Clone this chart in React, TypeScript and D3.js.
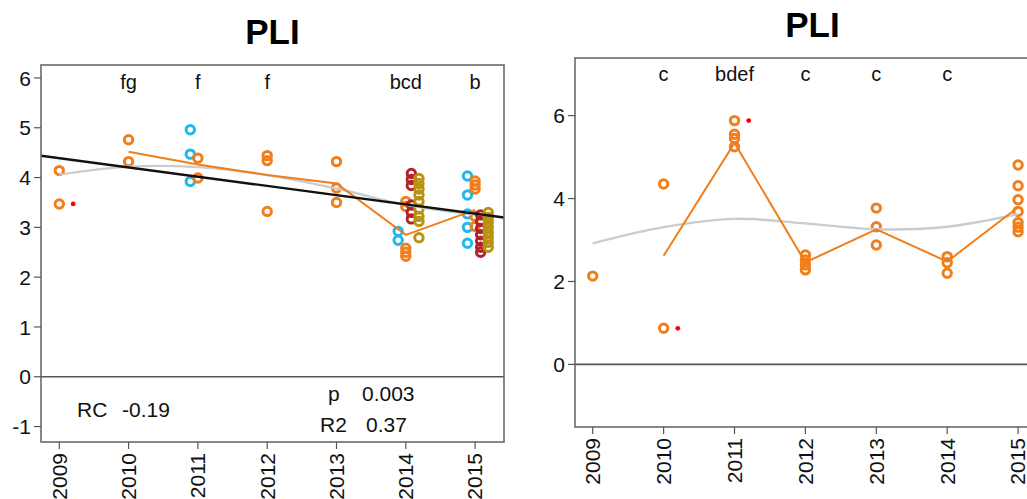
import React from "react";
import * as d3 from "d3";

const years = [2009, 2010, 2011, 2012, 2013, 2014, 2015];

// ---- Left panel data ----
const leftOrange = [
  [4.14, 3.47],
  [4.76, 4.32],
  [4.39, 3.99],
  [4.44, 4.34, 3.32],
  [4.32, 3.79, 3.5],
  [3.52, 3.42, 2.58, 2.5, 2.42],
  [3.93, 3.85, 3.77, 3.22, 3.02],
];
const leftCyan = [[], [], [4.96, 4.47, 3.92], [], [], [2.92, 2.74], [4.03, 3.65, 3.27, 3.0, 2.68]];
const leftRed = [[], [], [], [], [], [4.08, 3.96, 3.84, 3.45, 3.3, 3.17], [3.25, 3.12, 2.98, 2.85, 2.72, 2.6, 2.5]];
const leftGold = [
  [], [], [], [], [],
  [3.98, 3.88, 3.77, 3.65, 3.52, 3.37, 3.22, 3.12, 2.79],
  [3.3, 3.2, 3.1, 3.0, 2.9, 2.8, 2.7, 2.6],
];
const leftOrangeMean = [null, 4.52, 4.26, 4.05, 3.88, 2.85, 3.35];
const leftSmooth = [4.06, 4.22, 4.21, 4.05, 3.78, 3.45, 3.25];
const leftFitIntercept2009 = 4.39;
const leftFitSlope = -0.186;
const leftLetters = ["", "fg", "f", "f", "", "bcd", "b"];
const leftOutliers = [{ year: 2009, value: 3.47 }];
const leftYTicks = [-1, 0, 1, 2, 3, 4, 5, 6];
const leftStats = { rc: "-0.19", p: "0.003", r2: "0.37" };

// ---- Right panel data ----
const rightOrange = [
  [2.13],
  [4.35, 0.87],
  [5.88, 5.55, 5.45, 5.25],
  [2.64, 2.52, 2.4, 2.28],
  [3.77, 3.32, 2.88],
  [2.6, 2.45, 2.2],
  [4.81, 4.31, 3.97, 3.69, 3.42, 3.31, 3.2],
];
const rightOrangeMean = [null, 2.62, 5.34, 2.46, 3.26, 2.48, 3.79];
const rightSmooth = [2.92, 3.31, 3.51, 3.4, 3.26, 3.32, 3.63];
const rightLetters = ["", "c", "bdef", "c", "c", "c", ""];
const rightOutliers = [
  { year: 2010, value: 0.87 },
  { year: 2011, value: 5.88 },
];
const rightYTicks = [0, 2, 4, 6];

const ORANGE = "#F07E1B";
const CYAN = "#20B6EE";
const RED = "#B2222A";
const GOLD = "#B8930F";
const FONT = "'Liberation Sans', Arial, sans-serif";

type Series = { values: number[][]; color: string; offset: number };

function Panel(props: {
  x0: number; x1: number; y0: number; y1: number;
  xDomain: [number, number]; yDomain: [number, number];
  series: Series[];
  mean: (number | null)[];
  smooth: number[];
  letters: string[];
  letterBaseline: number;
  outliers: { year: number; value: number }[];
  yTicks: number[];
  fit?: { a: number; b: number };
  title: string; titleY: number;
  stats?: boolean;
}) {
  const { x0, x1, y0, y1 } = props;
  const x = d3.scaleLinear().domain(props.xDomain).range([x0, x1]);
  const y = d3.scaleLinear().domain(props.yDomain).range([y1, y0]);
  const clipId = "clip" + x0;
  const meanPts = years
    .map((yr, i) => [yr, props.mean[i]] as [number, number | null])
    .filter((d) => d[1] !== null) as [number, number][];
  const meanLine = d3.line<[number, number]>().x((d) => x(d[0])).y((d) => y(d[1]))(meanPts) || "";
  const smoothLine =
    d3
      .line<number>()
      .x((_, i) => x(years[i]))
      .y((d) => y(d))
      .curve(d3.curveCatmullRom)(props.smooth) || "";
  return (
    <g>
      <defs>
        <clipPath id={clipId}>
          <rect x={x0} y={y0} width={x1 - x0} height={y1 - y0} />
        </clipPath>
      </defs>
      <text x={(x0 + Math.min(x1, 1098)) / 2} y={props.titleY} textAnchor="middle" fontFamily={FONT} fontWeight="bold" fontSize={35} fill="#000">
        {props.title}
      </text>
      <g clipPath={`url(#${clipId})`}>
        <line x1={x0} x2={x1} y1={y(0)} y2={y(0)} stroke="#555" strokeWidth={1.6} />
        {props.series.map((s, si) =>
          s.values.map((vals, i) =>
            vals.map((v, j) => (
              <circle key={`${si}-${i}-${j}`} cx={x(years[i] + s.offset)} cy={y(v)} r={4.2} fill="none" stroke={s.color} strokeWidth={3} />
            ))
          )
        )}
        {props.outliers.map((o, i) => (
          <circle key={"o" + i} cx={x(o.year + 0.2)} cy={y(o.value)} r={2.4} fill="#FF0000" />
        ))}
        <path d={smoothLine} fill="none" stroke="#CCCCCC" strokeWidth={2.4} />
        <path d={meanLine} fill="none" stroke={ORANGE} strokeWidth={2} />
        {props.fit && (
          <line
            x1={x0}
            x2={x1}
            y1={y(props.fit.a + props.fit.b * (props.xDomain[0] - 2009))}
            y2={y(props.fit.a + props.fit.b * (props.xDomain[1] - 2009))}
            stroke="#111"
            strokeWidth={2.4}
          />
        )}
        {props.letters.map((l, i) =>
          l ? (
            <text key={"l" + i} x={x(years[i])} y={props.letterBaseline} textAnchor="middle" fontFamily={FONT} fontSize={20} fill="#111">
              {l}
            </text>
          ) : null
        )}
      </g>
      <rect x={x0} y={y0} width={x1 - x0} height={y1 - y0} fill="none" stroke="#6a6a6a" strokeWidth={1.6} />
      {props.yTicks.map((t) => (
        <g key={"yt" + t}>
          <line x1={x0 - 7} x2={x0} y1={y(t)} y2={y(t)} stroke="#555" strokeWidth={1.2} />
          <text x={x0 - 10} y={y(t)} dy="0.36em" textAnchor="end" fontFamily={FONT} fontSize={21} fill="#111">
            {t}
          </text>
        </g>
      ))}
      {years.map((yr) => (
        <g key={"xt" + yr}>
          <line x1={x(yr)} x2={x(yr)} y1={y1} y2={y1 + 7} stroke="#555" strokeWidth={1.2} />
          <text
            transform={`translate(${x(yr)},${y1 + 11}) rotate(-90)`}
            dy="0.35em"
            textAnchor="end"
            fontFamily={FONT}
            fontSize={21}
            fill="#111"
          >
            {yr}
          </text>
        </g>
      ))}
      {props.stats && (
        <g fontFamily={FONT} fontSize={21} fill="#111">
          <text x={77} y={417}>RC</text>
          <text x={122} y={417}>{leftStats.rc}</text>
          <text x={328} y={401}>p</text>
          <text x={362} y={401}>{leftStats.p}</text>
          <text x={320} y={432}>R2</text>
          <text x={366} y={432}>{leftStats.r2}</text>
        </g>
      )}
    </g>
  );
}

export default function App() {
  return (
    <svg width={1027} height={499} style={{ position: "absolute", left: 0, top: 0, background: "#fff" }}>
      <rect x={0} y={0} width={1027} height={499} fill="#fff" />
      <Panel
        x0={41} x1={504} y0={65} y1={442}
        xDomain={[2008.736, 2015.417]} yDomain={[-1.31, 6.26]}
        series={[
          { values: leftCyan, color: CYAN, offset: -0.11 },
          { values: leftOrange, color: ORANGE, offset: 0 },
          { values: leftRed, color: RED, offset: 0.08 },
          { values: leftGold, color: GOLD, offset: 0.19 },
        ]}
        mean={leftOrangeMean}
        smooth={leftSmooth}
        letters={leftLetters}
        letterBaseline={89}
        outliers={leftOutliers}
        yTicks={leftYTicks}
        fit={{ a: leftFitIntercept2009, b: leftFitSlope }}
        title="PLI" titleY={44}
        stats
      />
      <Panel
        x0={575} x1={1050} y0={58} y1={427}
        xDomain={[2008.75, 2015.45]} yDomain={[-1.51, 7.39]}
        series={[{ values: rightOrange, color: ORANGE, offset: 0 }]}
        mean={rightOrangeMean}
        smooth={rightSmooth}
        letters={rightLetters}
        letterBaseline={81}
        outliers={rightOutliers}
        yTicks={rightYTicks}
        title="PLI" titleY={37}
      />
    </svg>
  );
}
